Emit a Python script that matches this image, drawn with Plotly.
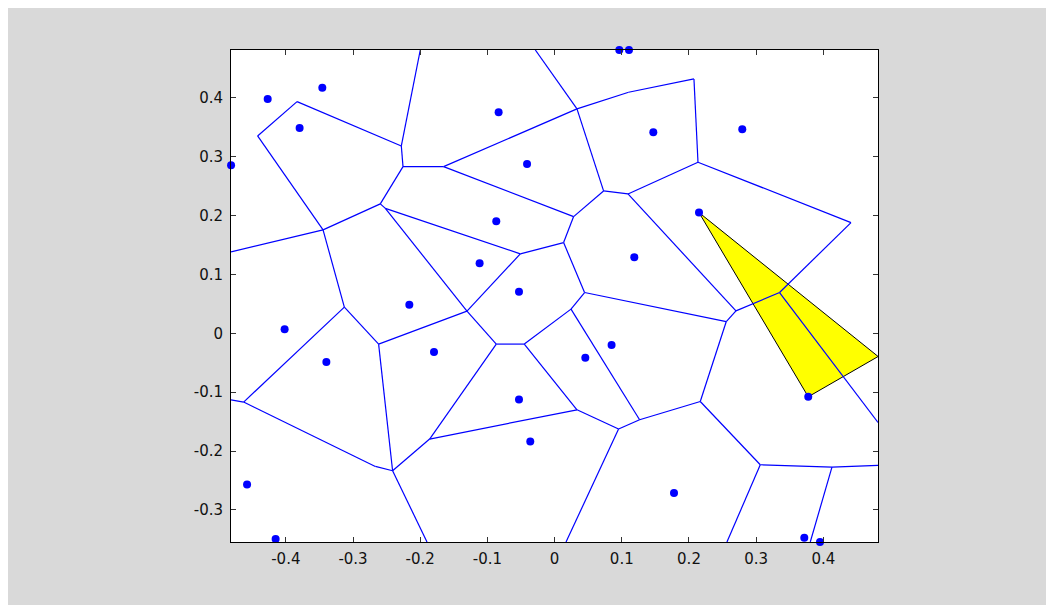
import plotly.graph_objects as go

# Generator points (site coordinates)
site_x = [-0.427, -0.3457, -0.3795, -0.4815, -0.0833, -0.041, -0.0868,
          0.0963, 0.1107, 0.1469, 0.2793, 0.2149,
          -0.1116, -0.053, -0.2162, -0.4018, -0.3397, -0.1795, -0.053,
          0.1186, 0.0848, 0.0457, 0.3775, 0.4815,
          -0.4577, -0.4152, -0.0362, 0.1777, 0.3716, 0.395]
site_y = [0.398, 0.4173, 0.349, 0.2856, 0.3755, 0.2878, 0.1905,
          0.4813, 0.4813, 0.3416, 0.3467, 0.2051,
          0.1192, 0.0705, 0.0484, 0.0071, -0.0489, -0.0319, -0.1124,
          0.1294, -0.020, -0.0416, -0.1078, -0.0394,
          -0.2567, -0.3494, -0.1837, -0.2713, -0.3472, -0.3545]

# Voronoi vertices
vert_name = ["A", "B", "C", "D", "E", "F", "F2", "G", "Top1", "Left1",
             "H", "Top2", "I", "J", "K", "L", "M", "N", "O", "Y", "T", "S",
             "P", "Q", "Left2", "R", "U", "V", "Z", "AA", "BB", "CC", "DD",
             "Right1", "EE", "FF", "GG", "HH", "II", "X", "QQ", "Bot1", "Bot2",
             "JJ", "KK", "Right2", "Bot3", "Bot4"]
vert_x = [-0.4420, -0.3833, -0.2281, -0.2256, -0.1652, -0.2594, -0.2519, -0.3446, -0.1999, -0.4816,
          0.0333, -0.0287, 0.1101, 0.2074, 0.2134, 0.4411, 0.1092, 0.0729, 0.0283, 0.0134, -0.0510, -0.1304,
          -0.3129, -0.4628, -0.4816, -0.2619, -0.0868, -0.0451, 0.0446, 0.0244, 0.2555, 0.2699, 0.3348,
          0.4813, 0.2168, 0.1265, 0.0952, 0.0333, -0.1860, -0.2411, -0.2668, -0.1899, 0.0170,
          0.3061, 0.4128, 0.4813, 0.3805, 0.2565]
vert_y = [0.3353, 0.3936, 0.3183, 0.2832, 0.2832, 0.2199, 0.2122, 0.1757, 0.4813, 0.1384,
          0.3812, 0.4813, 0.4095, 0.4321, 0.2907, 0.1881, 0.2368, 0.2419, 0.1983, 0.1542, 0.1350, 0.0377,
          0.0445, -0.1168, -0.1129, -0.0183, -0.0183, -0.0183, 0.0693, 0.0411, 0.0200, 0.0382, 0.0693,
          -0.1514, -0.1158, -0.1469, -0.1626, -0.1299, -0.1796, -0.2334, -0.2261, -0.3545, -0.3545,
          -0.2233, -0.2272, -0.2244, -0.3545, -0.3545]

# Voronoi edges (pairs of vertex names)
edges = [("A", "B"), ("B", "C"), ("C", "Top1"), ("C", "D"), ("D", "E"), ("D", "F"),
         ("F", "G"), ("A", "G"), ("F", "F2"), ("F2", "T"), ("F2", "S"), ("G", "Left1"),
         ("G", "P"), ("P", "Q"), ("Q", "Left2"), ("P", "R"), ("R", "S"), ("S", "T"),
         ("S", "U"), ("U", "V"), ("V", "AA"), ("V", "HH"), ("U", "II"), ("R", "X"),
         ("Q", "QQ"), ("QQ", "X"), ("X", "Bot1"), ("X", "II"), ("II", "HH"), ("HH", "GG"),
         ("GG", "FF"), ("GG", "Bot2"), ("FF", "AA"), ("FF", "EE"), ("EE", "BB"), ("EE", "JJ"),
         ("JJ", "KK"), ("JJ", "Bot4"), ("KK", "Right2"), ("KK", "Bot3"), ("BB", "Z"),
         ("BB", "CC"), ("Z", "AA"), ("Z", "Y"), ("Y", "T"), ("Y", "O"), ("O", "N"),
         ("O", "E"), ("E", "H"), ("N", "H"), ("N", "M"), ("M", "K"), ("M", "CC"),
         ("CC", "DD"), ("DD", "L"), ("DD", "Right1"), ("K", "L"), ("K", "J"),
         ("J", "I"), ("I", "H"), ("H", "Top2")]

# Highlighted triangle (indices into sites)
tri_idx = [11, 23, 22]

x_range = [-0.4816, 0.4813]
y_range = [-0.3545, 0.4813]
x_ticks = [-0.4, -0.3, -0.2, -0.1, 0, 0.1, 0.2, 0.3, 0.4]
x_labels = ["-0.4", "-0.3", "-0.2", "-0.1", "0", "0.1", "0.2", "0.3", "0.4"]
y_ticks = [-0.3, -0.2, -0.1, 0, 0.1, 0.2, 0.3, 0.4]
y_labels = ["-0.3", "-0.2", "-0.1", "0", "0.1", "0.2", "0.3", "0.4"]

idx = {n: i for i, n in enumerate(vert_name)}
ex, ey = [], []
for a, b in edges:
    ex += [vert_x[idx[a]], vert_x[idx[b]], None]
    ey += [vert_y[idx[a]], vert_y[idx[b]], None]

tx = [site_x[i] for i in tri_idx] + [site_x[tri_idx[0]]]
ty = [site_y[i] for i in tri_idx] + [site_y[tri_idx[0]]]

fig = go.Figure()
fig.add_trace(go.Scatter(x=tx, y=ty, mode="lines", fill="toself",
                         fillcolor="#ffff00", line=dict(color="#000000", width=1),
                         hoverinfo="skip"))
fig.add_trace(go.Scatter(x=ex, y=ey, mode="lines",
                         line=dict(color="#0000ff", width=1.2), hoverinfo="skip"))
fig.add_trace(go.Scatter(x=site_x, y=site_y, mode="markers", cliponaxis=False,
                         marker=dict(color="#0000ff", size=8, line=dict(width=0))))

axis_common = dict(showline=True, linecolor="#000000", linewidth=1, mirror="ticks",
                   ticks="inside", ticklen=5, tickcolor="#333333", showgrid=False,
                   zeroline=False,
                   tickfont=dict(family="DejaVu Sans, Arial", size=15, color="#111111"))
fig.update_xaxes(range=x_range, tickvals=x_ticks, ticktext=x_labels,
                 ticklabelstandoff=3, **axis_common)
fig.update_yaxes(range=y_range, tickvals=y_ticks, ticktext=y_labels,
                 ticklabelstandoff=4, **axis_common)
fig.update_layout(width=1054, height=605, showlegend=False,
                  paper_bgcolor="#d9d9d9", plot_bgcolor="#ffffff",
                  margin=dict(l=223, r=184, t=42, b=71))
fig.write_html("out.html")
